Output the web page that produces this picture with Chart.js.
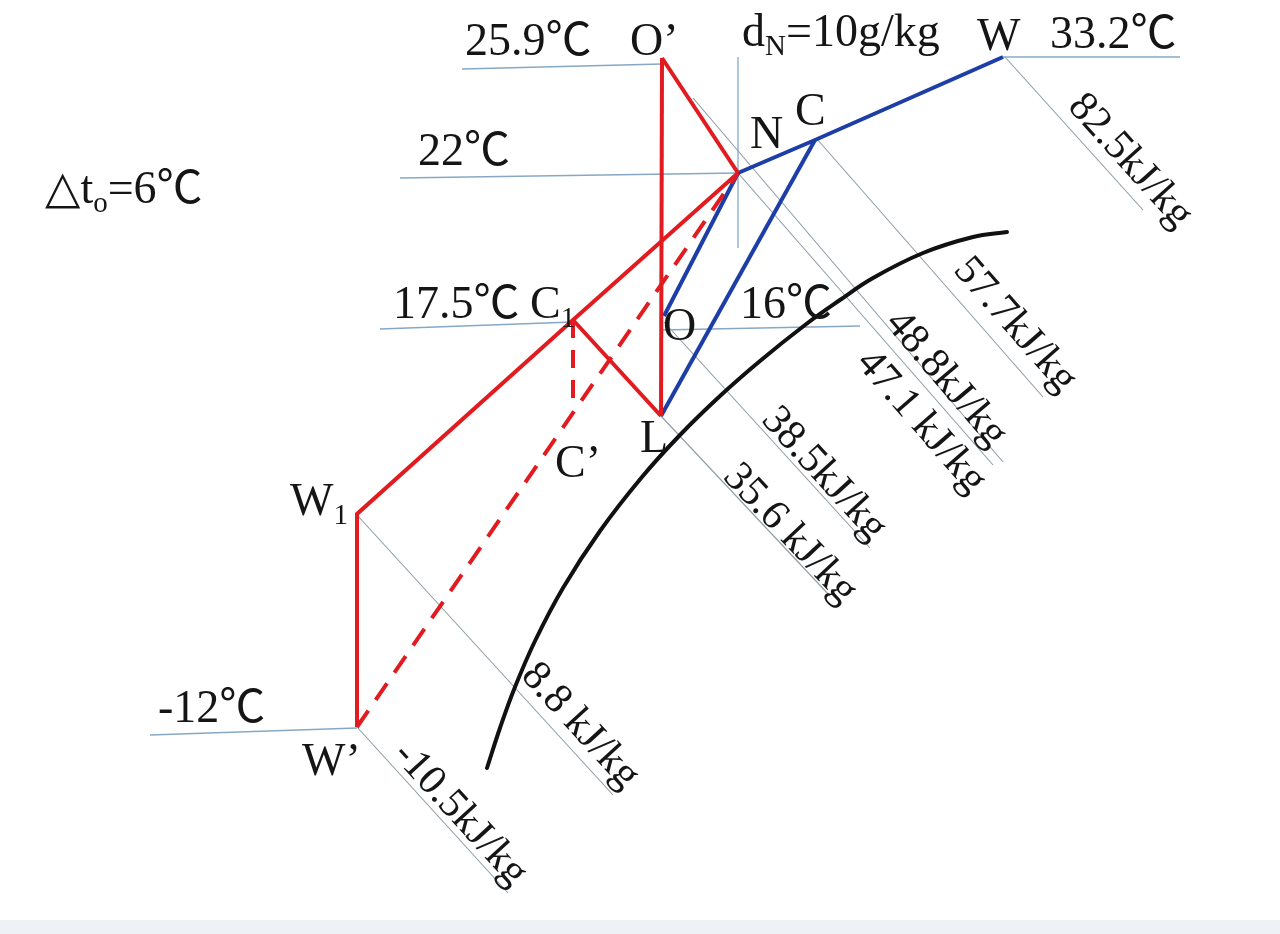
<!DOCTYPE html>
<html>
<head>
<meta charset="utf-8">
<script src="https://cdn.jsdelivr.net/npm/chart.js@4"></script>
<style>
  html, body { margin: 0; padding: 0; background: #fff; }
  #chart { display: block; }
</style>
</head>
<body>
<canvas id="chart" width="1280" height="934"></canvas>
<script>
// state points on the sketch (chart units: x to the right, y downwards)
const ptOp = [662, 58];   // O'
const ptN = [738, 173];
const ptW = [1003, 57];
const ptC = [815, 140];
const ptC1 = [573, 320];
const ptL = [661, 416];
const ptO = [664, 316];
const ptW1 = [357, 514];
const ptWp = [357, 727];  // W'
const ptCp = [573, 405];  // C'

// isotherms
const isoNames = ['25.9℃', '22℃', '17.5℃', '16℃', '-12℃', '33.2℃'];
const isoStartX = [462, 400, 380, 661, 150, 1003];
const isoStartY = [69, 178, 329, 330, 735, 57];
const isoEndX = [662, 738, 573, 860, 357, 1180];
const isoEndY = [64, 173, 322, 326, 728, 57];

// enthalpy lines
const enthNames = ['82.5kJ/kg', '57.7kJ/kg', '48.8kJ/kg', '47.1 kJ/kg', '38.5kJ/kg', '35.6 kJ/kg', '8.8 kJ/kg', '-10.5kJ/kg'];
const enthStartX = [1005, 817, 693, 738, 664, 661, 357, 357];
const enthStartY = [57, 139, 98, 173, 322, 416, 515, 727];
const enthEndX = [1143, 1043, 1003, 993, 870, 830, 613, 508];
const enthEndY = [210, 397, 462, 465, 548, 596, 795, 893];

// moisture content line d_N
const dNX = [738, 738];
const dNY = [57, 248];

// saturation curve
const satX = [487, 500, 515, 535, 563, 600, 642, 680, 720, 760, 805, 840, 873, 923, 973, 1007];
const satY = [768, 728, 687, 641, 588, 531, 477, 435, 396, 361, 325, 300, 278, 253, 237, 232];

const RED = '#e11b1f';
const BLUE = '#1c3ea6';
const ISO = '#86a8c6';
const ENTH = '#8e9ca6';
const FONT = '"Liberation Serif", "DejaVu Serif", serif';

const pts = (...list) => list.map(p => ({ x: p[0], y: p[1] }));
const seg = (x0, y0, x1, y1) => [{ x: x0, y: y0 }, { x: x1, y: y1 }];

function line(data, color, width, dash) {
  return {
    data: data,
    showLine: true,
    borderColor: color,
    borderWidth: width,
    borderDash: dash || [],
    pointRadius: 0,
    fill: false,
    borderCapStyle: 'butt',
    borderJoinStyle: 'miter'
  };
}

const datasets = [];
// red process lines (first = on top)
datasets.push(line(pts(ptOp, ptL), RED, 4));
datasets.push(line(pts(ptOp, ptN), RED, 4));
datasets.push(line(pts(ptN, ptC1, ptW1, ptWp), RED, 4));
datasets.push(line(pts(ptC1, ptL), RED, 4));
datasets.push(line(pts(ptC1, ptCp), RED, 4, [18, 12]));
datasets.push(line(pts(ptWp, ptN), RED, 4, [20, 13]));
// blue process lines
datasets.push(line(pts(ptN, ptC, ptW), BLUE, 4));
datasets.push(line(pts(ptN, ptO), BLUE, 4));
datasets.push(line(pts(ptC, ptL), BLUE, 4));
// saturation curve
const sat = line(satX.map((x, i) => ({ x: x, y: satY[i] })), '#111', 4);
sat.tension = 0.4;
sat.borderCapStyle = 'round';
datasets.push(sat);
// thin lines
isoNames.forEach((n, i) => datasets.push(line(seg(isoStartX[i], isoStartY[i], isoEndX[i], isoEndY[i]), ISO, 1.3)));
enthNames.forEach((n, i) => datasets.push(line(seg(enthStartX[i], enthStartY[i], enthEndX[i], enthEndY[i]), ENTH, 1.1)));
datasets.push(line(seg(dNX[0], dNY[0], dNX[1], dNY[1]), ISO, 1.3));

// label layout (chart units, left/baseline)
const isoLabelX = [465, 418, 393, 740, 158, 1050];
const isoLabelY = [55, 165, 318, 318, 722, 48];
const pointLabels = ['O’', 'N', 'W', 'C', 'C_1', 'O', 'L', 'C’', 'W_1', 'W’', 'd_N=10g/kg', '△t_o=6℃'];
const pointLabelX = [630, 750, 977, 795, 530, 663, 640, 555, 290, 302, 742, 45];
const pointLabelY = [55, 148, 50, 125, 318, 340, 452, 477, 515, 775, 46, 203];
// enthalpy label centres
const enthTextX = [1130, 1015, 946, 921, 824, 790, 580, 460];
const enthTextY = [161, 325, 379, 422, 474, 534, 726, 814];

function drawRich(ctx, str, x, y, size) {
  let cx = x;
  for (let i = 0; i < str.length; i++) {
    let ch = str[i];
    let sub = false;
    if (ch === '_') { sub = true; ch = str[++i]; }
    if (ch === '℃') {
      ctx.font = size + 'px "Noto Sans CJK SC", ' + FONT;
    } else {
      ctx.font = (sub ? Math.round(size * 0.62) : size) + 'px ' + FONT;
    }
    ctx.fillText(ch, cx, sub ? y + size * 0.2 : y);
    cx += ctx.measureText(ch).width;
  }
}

const labelPlugin = {
  id: 'labels',
  beforeDraw(chart) {
    const ctx = chart.ctx;
    const ys = chart.scales.y;
    ctx.save();
    ctx.fillStyle = '#fff';
    ctx.fillRect(0, 0, chart.width, chart.height);
    ctx.fillStyle = '#eef1f6';
    const yb = ys.getPixelForValue(920);
    ctx.fillRect(0, yb, chart.width, chart.height - yb);
    ctx.restore();
  },
  afterDatasetsDraw(chart) {
    const ctx = chart.ctx;
    const xs = chart.scales.x, ys = chart.scales.y;
    ctx.save();
    ctx.fillStyle = '#151515';
    ctx.textBaseline = 'alphabetic';
    ctx.textAlign = 'left';
    isoNames.forEach((t, i) => {
      drawRich(ctx, t, xs.getPixelForValue(isoLabelX[i]), ys.getPixelForValue(isoLabelY[i]), 46);
    });
    pointLabels.forEach((t, i) => {
      drawRich(ctx, t, xs.getPixelForValue(pointLabelX[i]), ys.getPixelForValue(pointLabelY[i]), 46);
    });
    // rotated enthalpy labels, along their lines
    ctx.textAlign = 'center';
    ctx.textBaseline = 'middle';
    ctx.font = '42px ' + FONT;
    enthNames.forEach((t, i) => {
      const x0 = xs.getPixelForValue(enthStartX[i]), y0 = ys.getPixelForValue(enthStartY[i]);
      const x1 = xs.getPixelForValue(enthEndX[i]), y1 = ys.getPixelForValue(enthEndY[i]);
      const a = Math.atan2(y1 - y0, x1 - x0);
      ctx.save();
      ctx.translate(xs.getPixelForValue(enthTextX[i]), ys.getPixelForValue(enthTextY[i]));
      ctx.rotate(a);
      ctx.fillText(t, 0, 0);
      ctx.restore();
    });
    ctx.restore();
  }
};

new Chart(document.getElementById('chart'), {
  type: 'scatter',
  data: { datasets: datasets },
  options: {
    responsive: false,
    devicePixelRatio: 1,
    animation: false,
    layout: { padding: 0 },
    plugins: { legend: { display: false }, tooltip: { enabled: false } },
    scales: {
      x: { type: 'linear', min: 0, max: 1280, display: false },
      y: { type: 'linear', min: 0, max: 934, reverse: true, display: false }
    }
  },
  plugins: [labelPlugin]
});
</script>
</body>
</html>
